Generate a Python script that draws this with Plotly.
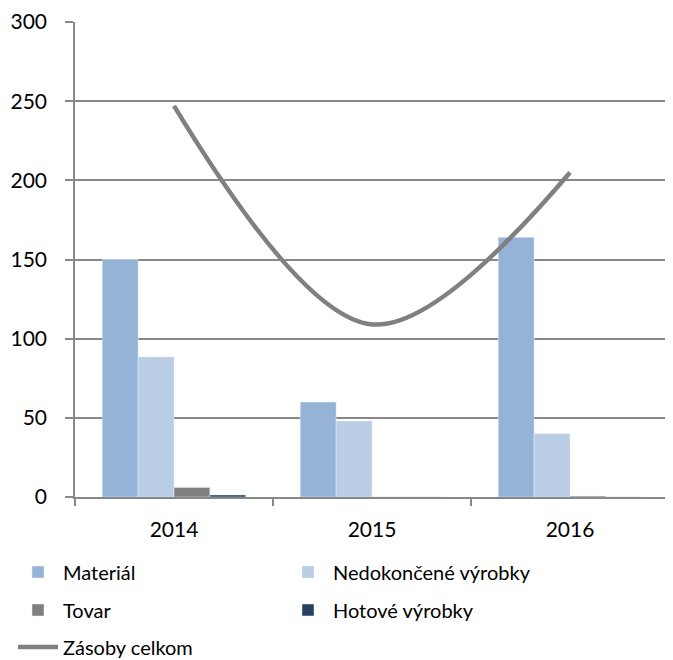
import plotly.graph_objects as go

years = ["2014", "2015", "2016"]
material = [150, 60, 164]
nedokoncene = [88.5, 48, 40]
tovar = [6, 0, 0.6]
hotove = [1.3, 0, 0]
zasoby = [247, 109, 205]

fig = go.Figure()
fig.add_trace(go.Bar(x=years, y=material, name="Materiál", marker_color="#95B3D7", legend="legend"))
fig.add_trace(go.Bar(x=years, y=nedokoncene, name="Nedokončené výrobky", marker_color="#B9CDE5", legend="legend"))
fig.add_trace(go.Bar(x=years, y=tovar, name="Tovar", marker_color="#7F7F7F", legend="legend2"))
fig.add_trace(go.Bar(x=years, y=hotove, name="Hotové výrobky", marker_color="#254061", legend="legend2"))
fig.add_trace(go.Scatter(x=years, y=zasoby, name="Zásoby celkom", mode="lines", legend="legend3",
                         line=dict(color="#808080", width=4.5, shape="spline", smoothing=1)))

# the page body adds an 8px offset; layout values are compensated for it
leg_common = dict(orientation="h", xref="container", yref="container", x=5 / 673, xanchor="left",
                  yanchor="middle", entrywidth=215, entrywidthmode="pixels",
                  font=dict(size=20), itemwidth=40, bgcolor="rgba(0,0,0,0)", traceorder="normal")

fig.update_layout(
    width=673, height=660,
    margin=dict(l=67, r=12, t=14, b=171),
    paper_bgcolor="white", plot_bgcolor="white",
    barmode="group", bargap=0.275, bargroupgap=0,
    font=dict(family="Lato, Open Sans, sans-serif", size=21, color="black"),
    showlegend=True,
    legend=dict(leg_common, y=1 - 564 / 660),
    legend2=dict(leg_common, y=1 - 602 / 660),
    legend3=dict(leg_common, y=1 - 639 / 660),
)
fig.update_xaxes(
    showline=True, linecolor="#888888", linewidth=1.5,
    ticks="outside", tickson="boundaries", ticklen=7, tickcolor="#888888", tickwidth=1.5,
    showgrid=False, tickfont=dict(size=21), ticklabelstandoff=13, automargin=False,
)
fig.update_yaxes(
    range=[0, 300], dtick=50, tick0=0,
    showline=True, linecolor="#888888", linewidth=1.5,
    ticks="outside", ticklen=8, tickcolor="#888888", tickwidth=1.5,
    showgrid=True, gridcolor="#888888", gridwidth=1.5,
    zeroline=False, tickfont=dict(size=21), ticklabelstandoff=14, automargin=False,
)
fig.write_html("out.html")
